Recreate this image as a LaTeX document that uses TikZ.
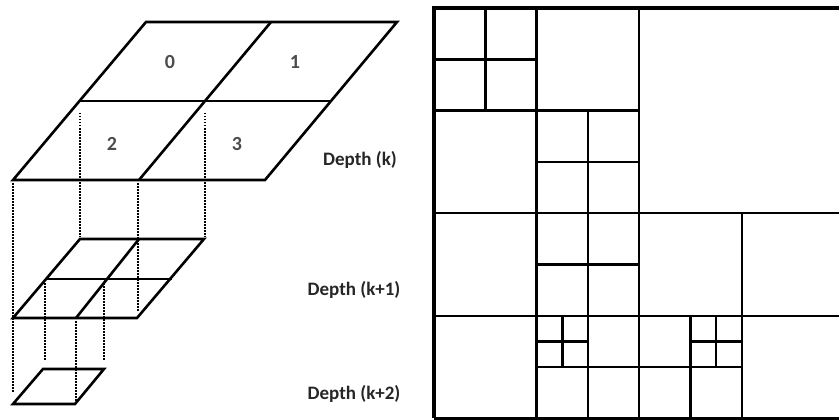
\documentclass[tikz,border=0pt]{standalone}
\usepackage{fontspec}
\setmainfont{Carlito}
\begin{document}
\begin{tikzpicture}[x=1pt,y=-1pt,
  plane/.style={draw=black,line width=2.6pt,line join=miter},
  proj/.style={draw=black,line width=1.5pt,dash pattern=on 1.5pt off 1.5pt},
  cellline/.style={draw=black,line width=2.5pt},
  frameline/.style={draw=black,line width=3.4pt},
  idx/.style={font=\fontsize{20}{20}\selectfont\bfseries,text=black!70},
  depth/.style={font=\fontsize{19}{19}\selectfont\bfseries,text=black!85}]
\useasboundingbox (0,0) rectangle (839,420);
\clip (0,0) rectangle (839,420);

% ---- level k: 2x2 parallelogram ----
\coordinate (kBL) at (13,180);   \coordinate (kBR) at (265,180);
\coordinate (kTR) at (397,22);   \coordinate (kTL) at (146,22);
\coordinate (kBM) at (139,180);  \coordinate (kTM) at (271,22);
\coordinate (kLM) at (79.5,101); \coordinate (kRM) at (331,101);
\draw[plane] (kBL) -- (kBR) -- (kTR) -- (kTL) -- cycle;
\draw[plane] (kLM) -- (kRM);
\draw[plane] (kBM) -- (kTM);
\node[idx] (n0) at (170,62) {0};
\node[idx] (n1) at (295,62) {1};
\node[idx] (n2) at (112,144) {2};
\node[idx] (n3) at (237,144) {3};

% ---- level k+1 ----
\coordinate (aBL) at (13,318);   \coordinate (aBR) at (137,318);
\coordinate (aTR) at (204,239);  \coordinate (aTL) at (80,239);
\coordinate (aBM) at (76,318);   \coordinate (aTM) at (139,239);
\coordinate (aLM) at (45,279);   \coordinate (aRM) at (172,279);
\draw[plane] (aBL) -- (aBR) -- (aTR) -- (aTL) -- cycle;
\draw[plane] (aLM) -- (aRM);
\draw[plane] (aBM) -- (aTM);

% ---- level k+2 ----
\coordinate (bBL) at (13,404);   \coordinate (bBR) at (75,404);
\coordinate (bTR) at (104,369);  \coordinate (bTL) at (43,369);
\draw[plane] (bBL) -- (bBR) -- (bTR) -- (bTL) -- cycle;

% ---- projection lines ----
\coordinate (p1a) at (13,183);  \coordinate (p1b) at (13,393);
\coordinate (p2a) at (80,113);  \coordinate (p2b) at (80,237);
\coordinate (p3a) at (205,113); \coordinate (p3b) at (205,237);
\coordinate (p4a) at (138,183); \coordinate (p4b) at (138,312);
\coordinate (p5a) at (45,283);  \coordinate (p5b) at (45,360);
\coordinate (p6a) at (104,283); \coordinate (p6b) at (104,360);
\coordinate (p7a) at (76,321);  \coordinate (p7b) at (76,402);
\foreach \p in {p1,p2,p3,p4,p5,p6,p7}
  \draw[proj] (\p a) -- (\p b);

% ---- depth labels ----
\node[depth] (dk)  at (360,160) {Depth (k)};
\node[depth] (dk1) at (354,290) {Depth (k+1)};
\node[depth] (dk2) at (354,394) {Depth (k+2)};

% ---- quadtree partition (cell units) ----
\begin{scope}[shift={(434,8)},x=51.3pt,y=-51.3pt]
  % full-length splits
  \draw[cellline] (4,0) -- (4,8);
  \draw[cellline] (0,4) -- (8,4);
  \draw[cellline] (2,0) -- (2,8);
  \draw[cellline] (0,6) -- (8,6);
  \draw[cellline] (0,2) -- (4,2);
  \draw[cellline] (6,4) -- (6,8);
  % top-left block
  \draw[cellline] (1,0) -- (1,2);
  \draw[cellline] (0,1) -- (2,1);
  % split cells in columns 2-5
  \draw[cellline] (3,2) -- (3,8);
  \draw[cellline] (2,3) -- (4,3);
  \draw[cellline] (2,5) -- (4,5);
  \draw[cellline] (2,7) -- (6,7);
  \draw[cellline] (5,6) -- (5,8);
  % finest cells
  \draw[cellline] (2.5,6) -- (2.5,7);
  \draw[cellline] (2,6.5) -- (3,6.5);
  \draw[cellline] (5.5,6) -- (5.5,7);
  \draw[cellline] (5,6.5) -- (6,6.5);
  % outer frame
  \draw[frameline] (0,8) -- (0,0) -- (8,0);
  \draw[cellline] (0,8) -- (8,8);
\end{scope}
\end{tikzpicture}
\end{document}
